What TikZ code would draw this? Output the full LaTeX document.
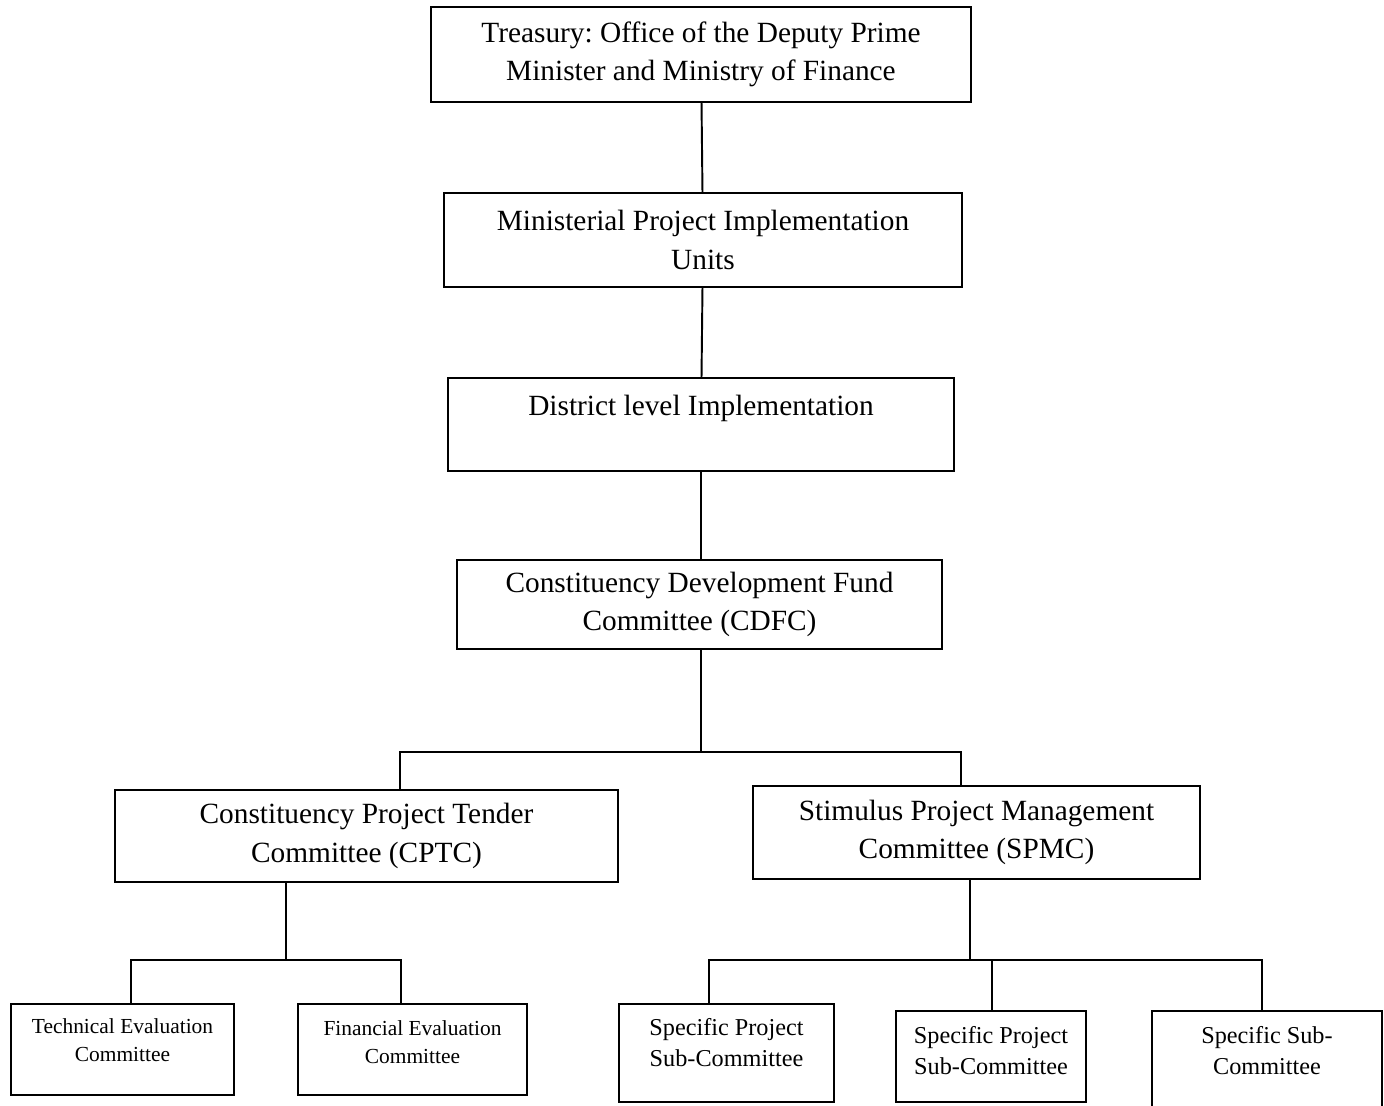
\documentclass[tikz,border=0pt]{standalone}
\usepackage{fontspec}
\setmainfont{Liberation Serif}
\frenchspacing
\usetikzlibrary{positioning,calc}
\tikzset{
    unit/.style={
        rectangle,
        draw=black,
        line width=1.1pt,
        align=center,
        inner sep=0pt,
        font=\fontsize{16.7}{22}\selectfont,
    },
    subunit/.style={
        unit,
        font=\fontsize{12.2}{16}\selectfont,
    },
    spunit/.style={
        unit,
        font=\fontsize{13.8}{17.6}\selectfont,
    },
    link/.style={
        line width=1.1pt,
    },
}
\begin{document}
\begin{tikzpicture}[x=0.02cm,y=-0.02cm]
    \fill[white] (0,0) rectangle (1384,1106);
    \useasboundingbox (0,0) rectangle (1384,1106);
    % top of the chain
    \node [unit,minimum width=10.8cm,minimum height=1.9cm] (treasury) at (701,54.5) {Treasury: Office of the Deputy Prime\\Minister and Ministry of Finance};
    \node [unit,minimum width=10.36cm,minimum height=1.88cm] (mpiu) at (703,240) {Ministerial Project Implementation\\Units};
    \node [unit,minimum width=10.12cm,minimum height=1.86cm] (district) at (701,424.5) {District level Implementation\\~};
    \node [unit,minimum width=9.7cm,minimum height=1.78cm] (cdfc) at (699.5,604.5) {Constituency Development Fund\\Committee (CDFC)};
    % committees
    \node [unit,minimum width=10.06cm,minimum height=1.84cm] (cptc) at (366.5,836) {Constituency Project Tender\\Committee (CPTC)};
    \node [unit,minimum width=8.94cm,minimum height=1.86cm] (spmc) at (976.5,832.5) {Stimulus Project Management\\Committee (SPMC)};
    % sub-committees
    \node [subunit,minimum width=4.46cm,minimum height=1.82cm,text depth=11pt] (tec) at (122.5,1049.5) {Technical Evaluation\\Committee};
    \node [subunit,minimum width=4.58cm,minimum height=1.82cm,text depth=8.7pt] (fec) at (412.5,1049.5) {Financial Evaluation\\Committee};
    \node [spunit,minimum width=4.3cm,minimum height=1.96cm,text depth=12pt] (spsc1) at (726.5,1053) {Specific Project\\Sub-Committee};
    \node [spunit,minimum width=3.8cm,minimum height=1.82cm,text depth=6.4pt] (spsc2) at (991,1056.5) {Specific Project\\Sub-Committee};
    \node [spunit,minimum width=4.6cm,minimum height=2.18cm,text depth=17pt] (ssc) at (1267,1065.5) {Specific Sub-\\Committee};
    % joints
    \coordinate (j1) at (701,752);
    \coordinate (j1l) at (400,752);
    \coordinate (j1r) at (961,752);
    \coordinate (j2) at (286,960);
    \coordinate (j2l) at (131,960);
    \coordinate (j2r) at (401,960);
    \coordinate (j3) at (970,960);
    \coordinate (j3l) at (709,960);
    \coordinate (j3m) at (992,960);
    \coordinate (j3r) at (1262,960);
    % links
    \draw [link] (treasury) -- (mpiu);
    \draw [link] (mpiu) -- (district);
    \draw [link] (district.south) -- (district.south |- cdfc.north);
    \draw [link] (cdfc.south -| j1) -- (j1);
    \draw [link] (j1l |- cptc.north) -- (j1l) -- (j1r) -- (j1r |- spmc.north);
    \draw [link] (j2 |- cptc.south) -- (j2);
    \draw [link] (j2l |- tec.north) -- (j2l) -- (j2r) -- (j2r |- fec.north);
    \draw [link] (j3 |- spmc.south) -- (j3);
    \draw [link] (j3l |- spsc1.north) -- (j3l) -- (j3r) -- (j3r |- ssc.north);
    \draw [link] (j3m) -- (j3m |- spsc2.north);
\end{tikzpicture}
\end{document}
